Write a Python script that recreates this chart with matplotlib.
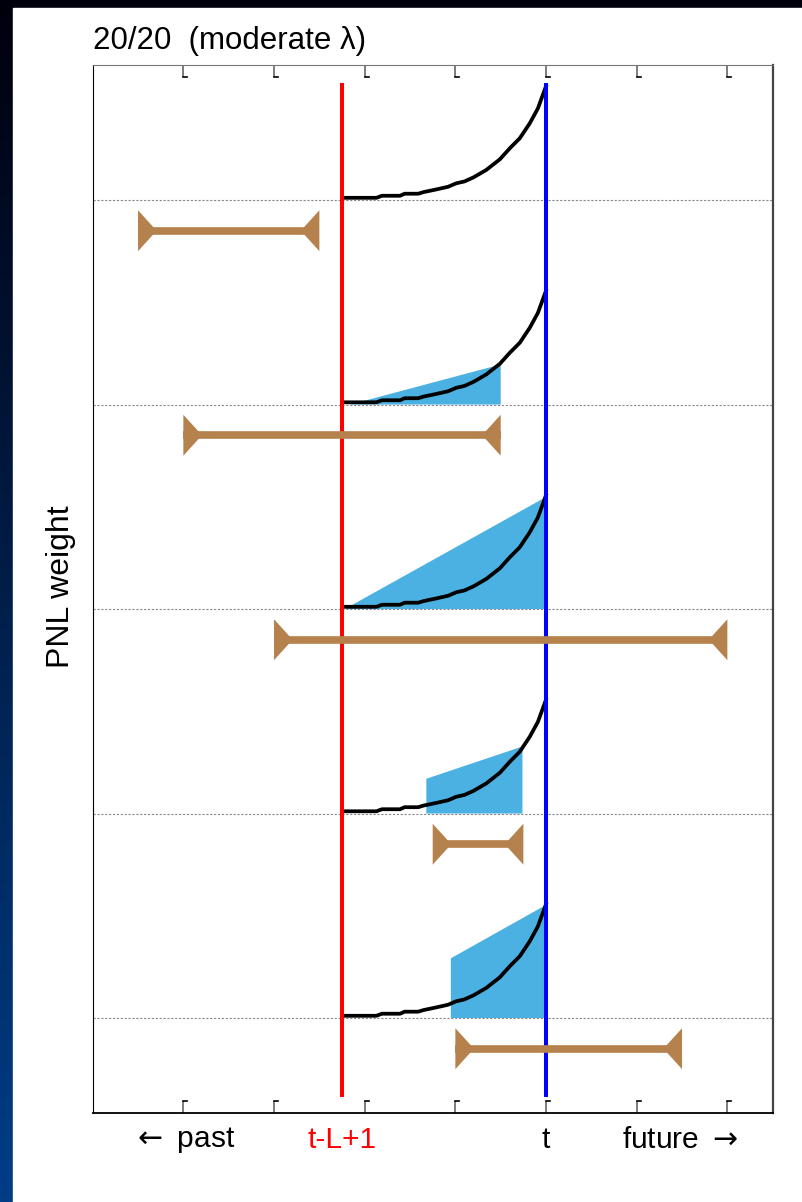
import numpy as np
import matplotlib
matplotlib.use("Agg")
import matplotlib.pyplot as plt
from matplotlib.transforms import blended_transform_factory

plt.rcParams['font.family'] = ['Liberation Sans', 'DejaVu Sans']

# weight curve (same shape in every panel)
curve_x = [2.75, 3.13, 3.19, 3.39, 3.44, 3.59, 3.65, 3.79, 3.92, 4.01,
           4.10, 4.20, 4.34, 4.49, 4.60, 4.71, 4.82, 4.91, 5.00]
curve_h = [0.011, 0.011, 0.021, 0.021, 0.031, 0.031, 0.039, 0.052, 0.065, 0.082,
           0.091, 0.111, 0.147, 0.199, 0.253, 0.302, 0.375, 0.448, 0.557]

# panel baselines, top to bottom
baselines = [4, 3, 2, 1, 0]

# blue shaded areas per panel (None = no shading)
fill_x = [None,
          [2.84, 4.50, 4.50],
          [2.78, 4.98, 4.98],
          [3.68, 3.68, 4.74, 4.74],
          [3.95, 3.95, 4.98, 4.98]]
fill_h = [None,
          [0.0, 0.196, 0.0],
          [0.0, 0.543, 0.0],
          [0.0, 0.170, 0.328, 0.0],
          [0.0, 0.292, 0.548, 0.0]]

# brown windows per panel
win_start = [0.5, 1.0, 2.0, 3.75, 4.0]
win_end = [2.5, 4.5, 7.0, 4.75, 6.5]

t_start = 2.75   # t-L+1
t_now = 5.0      # t
tick_pos = [1, 2, 3, 4, 5, 6, 7]

bottom_labels = [r'$\leftarrow$ past', 't-L+1', 't', r'future $\rightarrow$']
bottom_label_x = [1.0, 2.75, 5.0, 6.48]
bottom_label_col = ['black', 'red', 'black', 'black']

brown = '#b5814c'
blue_fill = '#4bb1e3'

fig = plt.figure(figsize=(8.02, 12.02), dpi=100)

# dark slide background + white page
bg = fig.add_axes([0, 0, 1, 1])
grad = np.linspace(0, 1, 256)[:, None]
c0 = np.array([0.0, 0.0, 0.05])
c1 = np.array([0.0, 0.24, 0.53])
img = c0 + (c1 - c0) * grad[:, :, None]
bg.imshow(img, aspect='auto', extent=[0, 1, 0, 1], origin='upper')
bg.add_patch(plt.Rectangle((13 / 802, 0), 1, 1 - 8 / 1202, color='white'))
bg.set_xlim(0, 1)
bg.set_ylim(0, 1)
bg.axis('off')

ax = fig.add_axes([92.7 / 802, 1 - 1112.7 / 1202, 680 / 802, 1047.4 / 1202])
ax.set_xlim(0, 7.5)
ax.set_ylim(-0.463, 4.659)

for i, b in enumerate(baselines):
    ax.axhline(b, color='#888888', lw=0.8, ls=(0, (2, 1.5)), zorder=1)
    if fill_x[i] is not None:
        ax.fill(fill_x[i], [b + h for h in fill_h[i]], color=blue_fill, lw=0, zorder=2)
    ax.plot(curve_x, [b + h for h in curve_h], color='black', lw=2.7, zorder=3,
            solid_joinstyle='round')
    # window bar with inward-pointing triangles
    yb = b - 0.15
    ax.plot([win_start[i], win_end[i]], [yb, yb], color=brown, lw=5.5,
            solid_capstyle='butt', zorder=5)
    tw, th = 0.205, 0.1
    ax.fill([win_start[i], win_start[i], win_start[i] + tw],
            [yb - th, yb + th, yb], color=brown, lw=0, zorder=5)
    ax.fill([win_end[i], win_end[i], win_end[i] - tw],
            [yb - th, yb + th, yb], color=brown, lw=0, zorder=5)

ax.plot([t_start, t_start], [-0.377, 4.562], color='red', lw=2.9, zorder=4)
ax.plot([t_now, t_now], [-0.377, 4.562], color='blue', lw=2.9, zorder=4)

# ticks (with the little hooks of the original)
ax.set_xticks(tick_pos)
ax.set_xticklabels([])
ax.set_yticks([])
ax.tick_params(axis='x', direction='in', top=True, bottom=True, length=8.5,
               width=1.2, color='#666666')
tr = blended_transform_factory(ax.transData, ax.transAxes)
hook = 0.045
for tx in tick_pos:
    ax.plot([tx, tx + hook], [0.0112, 0.0112], color='black', lw=1.2,
            transform=tr, clip_on=False)
    ax.plot([tx, tx + hook], [1 - 0.0112, 1 - 0.0112], color='black', lw=1.2,
            transform=tr, clip_on=False)

ax.spines['left'].set_color('black')
ax.spines['bottom'].set_color('black')
ax.spines['bottom'].set_linewidth(1.3)
ax.spines['top'].set_color('#777777')
ax.spines['right'].set_color('#444444')
ax.spines['right'].set_linewidth(1.6)

for lab, lx, lc in zip(bottom_labels, bottom_label_x, bottom_label_col):
    ax.text(lx, -0.026, lab, transform=tr, ha='center', va='center',
            fontsize=21.5, color=lc)

fig.text(92.7 / 802, 1 - 49 / 1202, '20/20  (moderate \u03bb)', fontsize=22.5,
         ha='left', va='baseline')
fig.text(61 / 802, 1 - 587 / 1202, 'PNL weight', fontsize=23, rotation=90,
         ha='center', va='center')

fig.savefig('out.png', dpi=100)
